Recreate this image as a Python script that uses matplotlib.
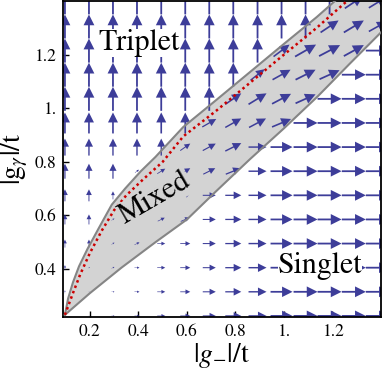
import matplotlib.pyplot as plt
from matplotlib.patches import Polygon

# 字型設定 (Times 風格)
plt.rcParams['font.family'] = ['STIXGeneral', 'DejaVu Serif']
plt.rcParams['mathtext.fontset'] = 'stix'

# 取樣格點
gx = [0.097, 0.196, 0.295, 0.394, 0.494, 0.593, 0.692, 0.791, 0.891, 0.990, 1.089, 1.188, 1.288, 1.387]
gy = [0.225, 0.315, 0.405, 0.495, 0.585, 0.675, 0.765, 0.855, 0.945, 1.035, 1.125, 1.215, 1.305, 1.395]

# 向量分量 (像素長度), 由下 (gy[0]) 往上
U = [
    [0, 1, 3, 5, 8, 10, 13, 16, 18, 22, 24, 24, 24, 24],
    [0, 1, 3, 5, 8, 10, 13, 16, 18, 22, 24, 24, 24, 24],
    [0, 2, 3, 5, 8, 10, 13, 16, 18, 22, 24, 24, 24, 24],
    [0, 0, 3, 5, 8, 10, 13, 16, 18, 22, 24, 24, 24, 24],
    [0, 0, 3, 5, 7, 9, 13, 16, 18, 22, 24, 24, 24, 24],
    [0, 0, 0, 5, 8, 10, 13, 16, 18, 22, 24, 24, 24, 24],
    [0, 0, 0, 4, 8, 10, 12, 15, 18, 22, 24, 24, 24, 24],
    [0, 0, 0, 0, 0, 10, 13, 16, 18, 22, 24, 24, 24, 24],
    [0, 0, 0, 0, 0, 0, 14, 16, 17, 19, 24, 24, 24, 24],
    [0, 0, 0, 0, 0, 0, 0, 16, 18, 19, 20, 24, 24, 24],
    [0, 0, 0, 0, 0, 0, 0, 0, 14, 18, 20, 20, 24, 24],
    [0, 0, 0, 0, 0, 0, 0, 0, 0, 16, 21, 21, 20, 24],
    [0, 0, 0, 0, 0, 0, 0, 0, 0, 0, 0, 18, 20, 18],
    [0, 0, 0, 0, 0, 0, 0, 0, 0, 0, 0, 0, 18, 18],
]
V = [
    [0, 0, 0, 0, 0, 0, 0, 0, 0, 0, 0, 0, 0, 0],
    [3, 0.5, 0, 0, 0, 0, 0, 0, 0, 0, 0, 0, 0, 0],
    [5, 1, 1.5, 0, 0, 0, 0, 0, 0, 0, 0, 0, 0, 0],
    [8, 8, 2, 2.5, 0, 0, 0, 0, 0, 0, 0, 0, 0, 0],
    [10, 10, 2, 3, 3.5, 4, 0, 0, 0, 0, 0, 0, 0, 0],
    [12, 12, 8, 3, 4, 5, 0, 0, 0, 0, 0, 0, 0, 0],
    [15, 15, 15, 3, 5, 6, 6, 6, 0, 0, 0, 0, 0, 0],
    [17, 17, 17, 17, 17, 7, 7, 8, 0, 0, 0, 0, 0, 0],
    [21, 21, 21, 21, 21, 21, 8, 9, 9, 8, 0, 0, 0, 0],
    [24, 24, 24, 24, 24, 24, 24, 11, 11, 10, 9, 0, 0, 0],
    [24, 24, 24, 24, 24, 24, 24, 24, 11, 10, 10, 9, 0, 0],
    [24, 24, 24, 24, 24, 24, 24, 24, 24, 12, 12, 11, 11, 0],
    [24, 24, 24, 24, 24, 24, 24, 24, 24, 24, 24, 12, 12, 10],
    [24, 24, 24, 24, 24, 24, 24, 24, 24, 24, 24, 24, 12, 11],
]

# 相邊界 (Triplet/Mixed 與 Mixed/Singlet)
upper_x = [0.097, 0.11, 0.13, 0.155, 0.19, 0.235, 0.29, 0.345, 0.41, 0.47, 0.585, 0.72, 0.86, 1.0, 1.135, 1.21]
upper_y = [0.229, 0.29, 0.35, 0.41, 0.475, 0.55, 0.64, 0.70, 0.765, 0.818, 0.93, 1.03, 1.135, 1.24, 1.34, 1.40]
lower_x = [0.097, 0.2, 0.33, 0.47, 0.6, 0.72, 0.86, 1.0, 1.14, 1.27, 1.40]
lower_y = [0.229, 0.31, 0.405, 0.50, 0.585, 0.69, 0.81, 0.925, 1.045, 1.165, 1.283]

# 紅色虛線
crit_x = [0.097, 0.13, 0.16, 0.20, 0.25, 0.30, 0.35, 0.42, 0.50, 0.585, 0.72, 0.86, 1.0, 1.135, 1.26]
crit_y = [0.229, 0.31, 0.38, 0.46, 0.545, 0.62, 0.675, 0.735, 0.80, 0.895, 0.99, 1.095, 1.20, 1.30, 1.40]

xticks = [0.2, 0.4, 0.6, 0.8, 1.0, 1.2]
xtick_labels = ['0.2', '0.4', '0.6', '0.8', '1.', '1.2']
yticks = [0.4, 0.6, 0.8, 1.0, 1.2]
ytick_labels = ['0.4', '0.6', '0.8', '1.', '1.2']

fill_color = '#d3d3d3'
arrow_color = '#3d3d99'

fig = plt.figure(figsize=(3.82, 3.76), dpi=100)
ax = fig.add_axes([63 / 382, 59 / 376, 318 / 382, 316 / 376])
ax.set_xlim(0.089, 1.40)
ax.set_ylim(0.221, 1.40)

# Mixed 區域填色
poly_pts = list(zip(upper_x, upper_y)) + [(1.45, 1.45), (1.45, lower_y[-1])] + list(zip(lower_x[::-1], lower_y[::-1]))
ax.add_patch(Polygon(poly_pts, closed=True, facecolor=fill_color, edgecolor='none', zorder=1))
ax.plot(upper_x, upper_y, color='#858585', lw=1.5, zorder=3)
ax.plot(lower_x, lower_y, color='#858585', lw=1.5, zorder=3)

# 向量場
X = [[x for x in gx] for _ in gy]
Y = [[y for _ in gx] for y in gy]
ax.quiver(X, Y, U, V, color=arrow_color, angles='uv', scale_units='dots', scale=1,
          units='dots', width=1.8, headwidth=6, headlength=6, headaxislength=6,
          minshaft=2.1, minlength=0, pivot='middle', zorder=2)

# 紅色虛線
ax.plot(crit_x, crit_y, color='#cc0000', lw=1.8, linestyle=(0, (1, 1.3)), zorder=4)

# 標籤
ax.text(0.404, 1.245, 'Triplet', fontsize=21.5, ha='center', va='center', zorder=5,
        bbox=dict(facecolor='white', edgecolor='none', pad=0))
ax.text(0.47, 0.663, 'Mixed', fontsize=21.5, ha='center', va='center', rotation=30, zorder=5,
        bbox=dict(facecolor=fill_color, edgecolor='none', pad=0))
ax.text(1.148, 0.411, 'Singlet', fontsize=21.5, ha='center', va='center', zorder=5,
        bbox=dict(facecolor='white', edgecolor='none', pad=0))

ax.set_xticks(xticks)
ax.set_xticklabels(xtick_labels)
ax.set_yticks(yticks)
ax.set_yticklabels(ytick_labels)
ax.tick_params(direction='in', length=4, width=1, labelsize=12.5, pad=5)

ax.set_xlabel(r'$|g_{-}|/\mathrm{t}$', fontsize=20, labelpad=1)
ax.set_ylabel(r'$|\mathrm{g}_{\gamma}|/\mathrm{t}$', fontsize=20, labelpad=3)

for s in ax.spines.values():
    s.set_linewidth(1.3)

fig.savefig('out.png', dpi=100)
